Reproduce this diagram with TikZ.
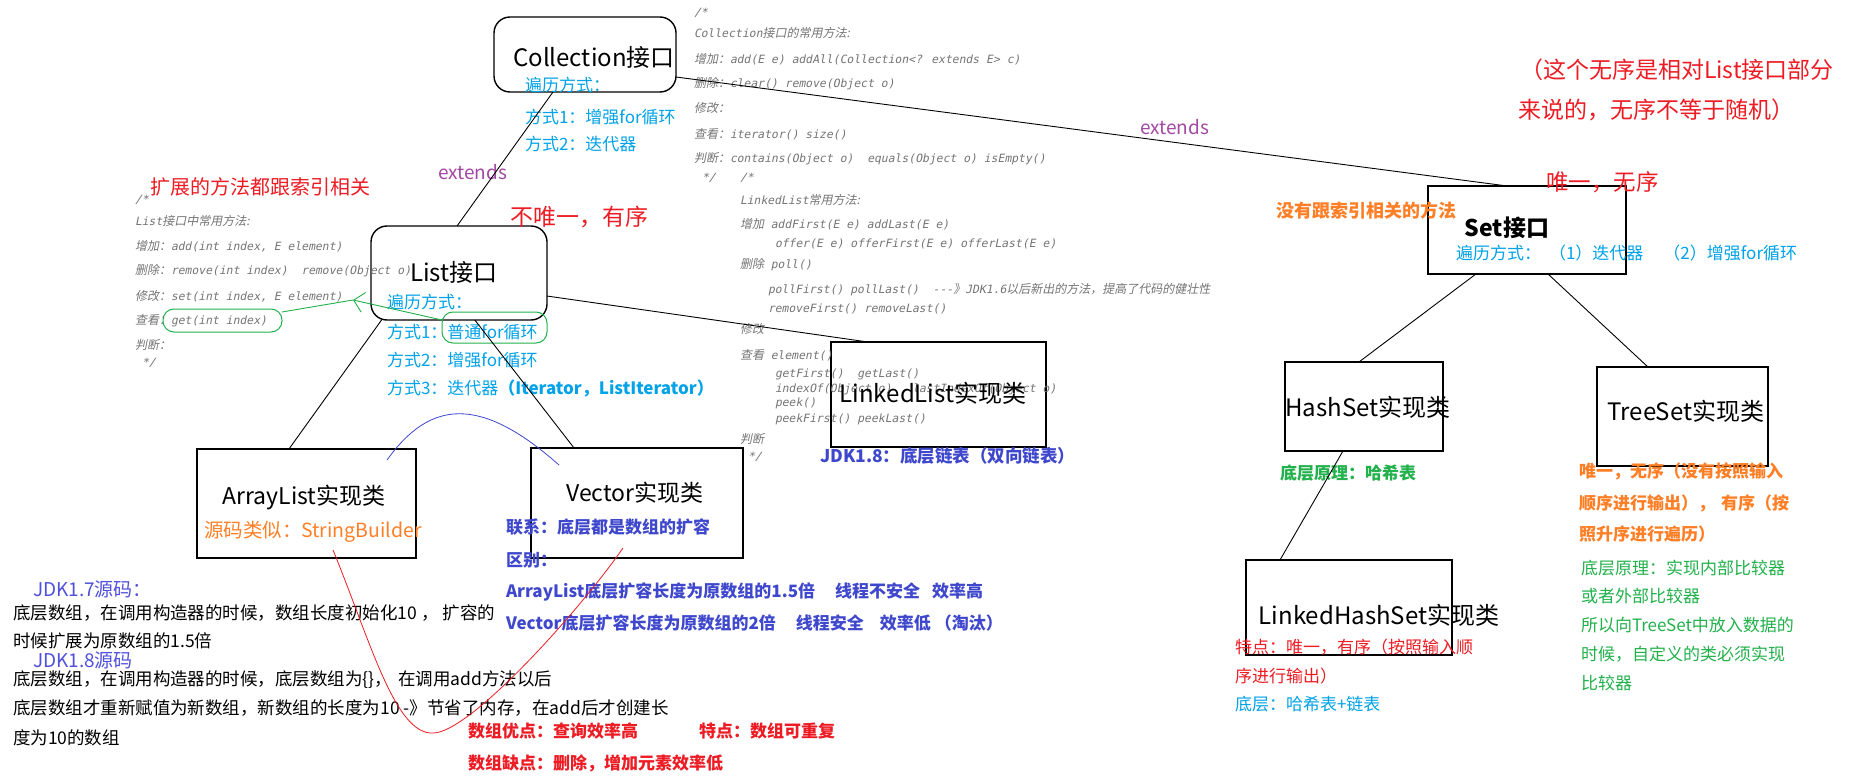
\documentclass[tikz,border=0pt]{standalone}
\usepackage{fontspec}
\setmainfont{Noto Sans CJK SC}
\newfontfamily\codefont{DejaVu Sans Mono}[FakeSlant=0.2]
\newfontfamily\zhcode{Noto Sans CJK SC}[FakeSlant=0.2]
\usetikzlibrary{calc,arrows.meta}
\definecolor{cred}{HTML}{ED1C24}
\definecolor{corange}{HTML}{FF7F27}
\definecolor{cblue}{HTML}{00A2E8}
\definecolor{cindigo}{HTML}{3F48CC}
\definecolor{cjdk}{HTML}{5050DC}
\definecolor{cgreen}{HTML}{22B14C}
\definecolor{cpurple}{HTML}{A349A4}
\definecolor{cgray}{HTML}{747474}
\newcommand\zh[1]{{\zhcode\fontsize{12}{13}\selectfont #1}}
\newcommand\fsz[1]{\fontsize{#1}{#1}\selectfont}
\tikzset{
  every node/.style={inner sep=0pt, outer sep=0pt},
  box/.style={draw=black, line width=1.4pt},
  rbox/.style={box, rounded corners=16pt},
  gbox/.style={draw=cgreen, line width=1pt, rounded corners=11pt},
  conn/.style={draw=black, line width=0.9pt},
  gline/.style={draw=cgreen, line width=0.9pt},
  curveb/.style={draw=cindigo, line width=0.8pt},
  curver/.style={draw=cred, line width=0.8pt},
  code/.style={anchor=west, text=cgray, font=\codefont\fsz{11.4}},
  title/.style={font=\fsz{24}},
  tl/.style={anchor=west},
  bl/.style={tl, text=cblue, font=\fsz{17}},
  purp/.style={tl, text=cpurple, font=\fsz{19}},
  ind/.style={tl, text=cindigo, font=\bfseries\fsz{17}},
  blk/.style={tl, text=black, font=\fsz{17.5}},
  jdk/.style={tl, text=cjdk, font=\fsz{19}},
  redb/.style={tl, text=cred, font=\bfseries\fsz{17}},
  redn/.style={tl, text=cred, font=\fsz{17}},
  orb/.style={tl, text=corange, font=\bfseries\fsz{17}},
  grb/.style={tl, text=cgreen, font=\bfseries\fsz{17}},
  grn/.style={tl, text=cgreen, font=\fsz{17}},
}
\begin{document}
\begin{tikzpicture}[x=1pt,y=-1pt]
\useasboundingbox (0,0) rectangle (1856,781);
\fill[white] (0,0) rectangle (1856,781);

% ---------- boxes ----------
\node[rbox, minimum width=182pt, minimum height=75pt] (coll) at (585,54.5) {};
\node[rbox, minimum width=176pt, minimum height=94pt] (list) at (459,273) {};
\node[box, minimum width=219pt, minimum height=109pt] (arr) at (306.5,503.5) {};
\node[box, minimum width=212pt, minimum height=110pt] (vec) at (637,503) {};
\node[box, minimum width=215pt, minimum height=105pt] (lnk) at (938.5,394.5) {};
\node[box, minimum width=198pt, minimum height=88pt] (set) at (1527,230) {};
\node[box, minimum width=158pt, minimum height=89pt] (hash) at (1364,406.5) {};
\node[box, minimum width=171pt, minimum height=99pt] (tree) at (1682.5,416.5) {};
\node[box, minimum width=206pt, minimum height=95pt] (lhs) at (1349,607.5) {};
\node[gbox, minimum width=105pt, minimum height=31pt] (g1) at (494.5,327.5) {};
\node[gbox, minimum width=119pt, minimum height=23pt] (g2) at (222.5,320.5) {};

% ---------- code comments: Collection ----------
\node[code] (cc1) at (694,13) {/*};
\node[code] (cc2) at (694,33) {Collection\zh{接口的常用方法:}};
\node[code] (cc3) at (694,59) {\zh{增加：}add(E e) addAll(Collection<? extends E> c)};
\node[code] (cc4) at (694,84) {\zh{删除：}clear() remove(Object o)};
\node[code] (cc5) at (694,108) {\zh{修改：}};
\node[code] (cc6) at (694,134) {\zh{查看：}iterator() size()};
\node[code] (cc7) at (694,159) {\zh{判断：}contains(Object o)~~equals(Object o) isEmpty()};
\node[code] (cc8) at (702,178) {*/};
% ---------- code comments: LinkedList ----------
\node[code] (cl0) at (740,178) {/*};
\node[code] (cl1) at (740,200) {LinkedList\zh{常用方法:}};
\node[code] (cl2) at (740,224) {\zh{增加} addFirst(E e) addLast(E e)};
\node[code] (cl3) at (775,244) {offer(E e) offerFirst(E e) offerLast(E e)};
\node[code] (cl4) at (740,265) {\zh{删除} poll()};
\node[code] (cl5) at (768,290) {pollFirst() pollLast()~~-{}-{}-\zh{》}JDK1.6\zh{以后新出的方法，提高了代码的健壮性}};
\node[code] (cl6) at (768,309) {removeFirst() removeLast()};
\node[code] (cl7) at (740,329) {\zh{修改}};
\node[code] (cl8) at (740,355) {\zh{查看} element()};
\node[code] (cl9) at (775,374) {getFirst()~~getLast()};
\node[code] (cl10) at (775,389) {indexOf(Object o)~~~lastIndexOf(Object o)};
\node[code] (cl11) at (775,403) {peek()};
\node[code] (cl12) at (775,419) {peekFirst() peekLast()};
\node[code] (cl13) at (740,439) {\zh{判断}};
\node[code] (cl14) at (748,457) {*/};
% ---------- code comments: List ----------
\node[code] (ll0) at (135,200) {/*};
\node[code] (ll1) at (135,221) {List\zh{接口中常用方法:}};
\node[code] (ll2) at (135,246) {\zh{增加：}add(int index, E element)};
\node[code] (ll3) at (135,271) {\zh{删除：}remove(int index)~~remove(Object o)};
\node[code] (ll4) at (135,296) {\zh{修改：}set(int index, E element)};
\node[code] (ll5) at (135,321) {\zh{查看：}get(int index)};
\node[code] (ll6) at (135,345) {\zh{判断：}};
\node[code] (ll7) at (142,363) {*/};

% ---------- Collection ----------
\node[title] (tcoll) at (594,57) {Collection接口};
\node[bl] (cb1) at (525,85) {遍历方式：};
\node[bl] (cb2) at (525,117) {方式1：增强for循环};
\node[bl] (cb3) at (525,144) {方式2：迭代器};
\node[purp] (ext1) at (438,172) {extends};
\node[purp] (ext2) at (1140,127) {extends};

% ---------- List ----------
\node[tl, text=cred, font=\fsz{20}] (r1) at (150,187) {扩展的方法都跟索引相关};
\node[tl, text=cred, font=\fsz{23}] (r2) at (510,217) {不唯一，有序};
\node[title] (tlist) at (454,272) {List接口};
\node[bl] (lb1) at (387,302) {遍历方式：};
\node[bl] (lb2) at (387,332) {方式1：普通for循环};
\node[bl] (lb3) at (387,360) {方式2：增强for循环};
\node[bl] (lb4) at (387,388) {方式3：迭代器\textbf{（Iterator，ListIterator）}};

% ---------- ArrayList / Vector ----------
\node[font=\fsz{23}] (tarr) at (304,497) {ArrayList实现类};
\node[tl, text=corange, font=\fsz{19.5}] (arr2) at (204,532) {源码类似：StringBuilder};
\node[font=\fsz{23}] (tvec) at (635,493) {Vector实现类};
\node[ind] (v1) at (506,527) {联系：底层都是数组的扩容};
\node[ind] (v2) at (506,560) {区别：};
\node[ind] (v3) at (506,592) {ArrayList底层扩容长度为原数组的1.5倍\hspace{20pt}线程不安全\hspace{12pt}效率高};
\node[ind] (v4) at (506,623) {Vector底层扩容长度为原数组的2倍\hspace{20pt}线程安全\hspace{16pt}效率低\hspace{4pt}（淘汰）};

\node[jdk] (j1) at (33,589) {JDK1.7源码：};
\node[blk] (j2) at (13,613) {底层数组，在调用构造器的时候，数组长度初始化10 ， 扩容的};
\node[blk] (j3) at (13,641) {时候扩展为原数组的1.5倍};
\node[jdk] (j4) at (33,660) {JDK1.8源码};
\node[blk] (j5) at (13,680) {底层数组，在调用构造器的时候，底层数组为\{\}，\hspace{6pt}在调用add方法以后};
\node[blk] (j6) at (13,708) {底层数组才重新赋值为新数组，新数组的长度为10 -》节省了内存，在add后才创建长};
\node[blk] (j7) at (13,738) {度为10的数组};

\node[redb] (d1) at (468,731) {数组优点：查询效率高};
\node[redb] (d2) at (699,731) {特点：数组可重复};
\node[redb] (d3) at (468,763) {数组缺点：删除，增加元素效率低};

% ---------- LinkedList ----------
\node[title] (tlnk) at (933,393) {LinkedList实现类};
\node[tl, text=cindigo, font=\bfseries\fsz{17.5}] (lnk2) at (820,456) {JDK1.8：底层链表（双向链表）};

% ---------- Set ----------
\node[tl, text=cred, font=\fsz{23}] (n1) at (1520,70) {（这个无序是相对List接口部分};
\node[tl, text=cred, font=\fsz{23}] (n2) at (1518,110) {来说的，无序不等于随机）};
\node[tl, text=cred, font=\fsz{22.5}] (n3) at (1546,182) {唯一，无序};
\node[tl, text=corange, font=\bfseries\fsz{18}] (s0) at (1276,211) {没有跟索引相关的方法};
\node[font=\bfseries\fsz{23}] (tset) at (1507,228) {Set接口};
\node[bl] (s1) at (1456,253) {遍历方式：\hspace{8pt}（1）迭代器\hspace{20pt}（2）增强for循环};

\node[title] (thash) at (1368,407) {HashSet实现类};
\node[grb] (h2) at (1280,473) {底层原理：哈希表};
\node[title] (ttree) at (1686,411) {TreeSet实现类};
\node[orb] (o1) at (1579,471) {唯一，无序（没有按照输入};
\node[orb] (o2) at (1579,503) {顺序进行输出），\hspace{6pt}有序（按};
\node[orb] (o3) at (1579,534) {照升序进行遍历）};
\node[grn] (t1) at (1581,568) {底层原理：实现内部比较器};
\node[grn] (t2) at (1581,596) {或者外部比较器};
\node[grn] (t3) at (1581,625) {所以向TreeSet中放入数据的};
\node[grn] (t4) at (1581,654) {时候，自定义的类必须实现};
\node[grn] (t5) at (1581,683) {比较器};
\node[title] (tlhs) at (1379,615) {LinkedHashSet实现类};
\node[redn] (lh1) at (1235,647) {特点：唯一，有序（按照输入顺};
\node[redn] (lh2) at (1235,676) {序进行输出）};
\node[bl] (lh3) at (1235,704) {底层：哈希表+链表};

% ---------- connectors ----------
\draw[conn] ($(coll.south west)!0.324!(coll.south east)$) -- ($(list.north west)!0.489!(list.north east)$);
\draw[conn] ($(list.south west)!0.06!(list.south east)$) -- ($(arr.north west)!0.42!(arr.north east)$);
\draw[conn] ($(list.south west)!0.59!(list.south east)$) -- ($(vec.north west)!0.203!(vec.north east)$);
\draw[conn] ($(list.north east)!0.745!(list.south east)$) -- ($(lnk.north west)!0.172!(lnk.north east)$);
\draw[conn] ($(coll.north east)!0.8!(coll.south east)$) -- ($(set.north west)!0.4!(set.north east)$);
\draw[conn] ($(set.south west)!0.242!(set.south east)$) -- ($(hash.north west)!0.468!(hash.north east)$);
\draw[conn] ($(set.south west)!0.606!(set.south east)$) -- ($(tree.north west)!0.298!(tree.north east)$);
\draw[conn] ($(hash.south west)!0.367!(hash.south east)$) -- ($(lhs.north west)!0.165!(lhs.north east)$);

% green arrow between the two marks
\coordinate (gtip) at (353,300);
\draw[gline, -{Straight Barb[length=10pt,width=20pt]}] ($(g1.west)+(0,-7.5)$) -- (gtip);
\draw[gline] (gtip) -- ($(g2.east)+(0,-8.5)$);

% blue curve ArrayList -> Vector
\draw[curveb] ($(arr.north east)+(-29,11)$) .. controls (430,400) and (480,395) .. ($(vec.north west)+(28,17)$);
% red curve ArrayList -> Vector (below)
\coordinate (rbot) at (433,733);
\draw[curver] ($(arr.south west)+(136,-8)$) .. controls (370,640) and (395,735) .. (rbot)
   .. controls (470,733) and (580,610) .. ($(vec.south west)+(92,-10)$);
\end{tikzpicture}
\end{document}
